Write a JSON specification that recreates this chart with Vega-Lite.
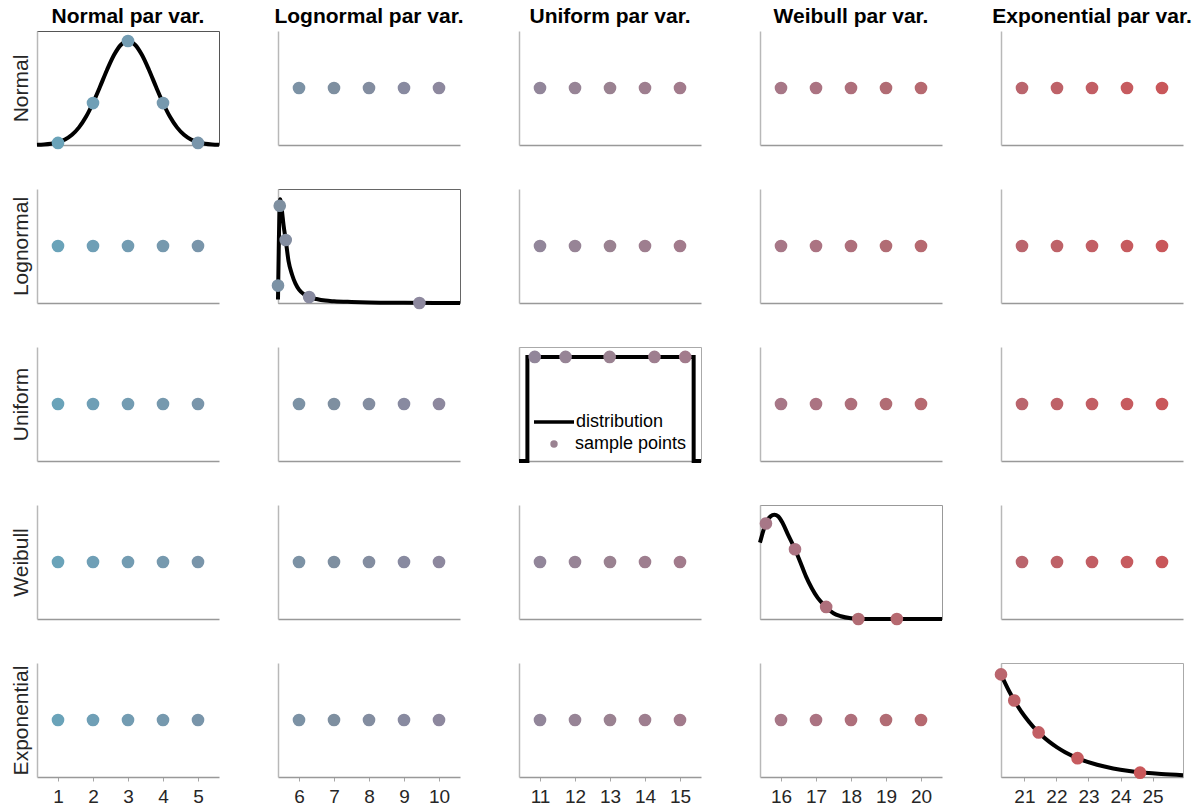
{
"$schema": "https://vega.github.io/schema/vega-lite/v6.json",
"padding": {"left": 9, "top": 5, "right": 0, "bottom": 0},
"background": "white",
"datasets": {
"pts": [
{"c":1,"i":1},{"c":1,"i":2},{"c":1,"i":3},{"c":1,"i":4},{"c":1,"i":5},
{"c":2,"i":6},{"c":2,"i":7},{"c":2,"i":8},{"c":2,"i":9},{"c":2,"i":10},
{"c":3,"i":11},{"c":3,"i":12},{"c":3,"i":13},{"c":3,"i":14},{"c":3,"i":15},
{"c":4,"i":16},{"c":4,"i":17},{"c":4,"i":18},{"c":4,"i":19},{"c":4,"i":20},
{"c":5,"i":21},{"c":5,"i":22},{"c":5,"i":23},{"c":5,"i":24},{"c":5,"i":25}
],
"samples": [
{"d":"Normal","i":1,"x":1,"y":0.018},{"d":"Normal","i":2,"x":2,"y":0.368},{"d":"Normal","i":3,"x":3,"y":0.912},{"d":"Normal","i":4,"x":4,"y":0.368},{"d":"Normal","i":5,"x":5,"y":0.018},
{"d":"Lognormal","i":6,"x":5.4,"y":0.153},{"d":"Lognormal","i":7,"x":5.45,"y":0.853},{"d":"Lognormal","i":8,"x":5.62,"y":0.553},{"d":"Lognormal","i":9,"x":6.29,"y":0.053},{"d":"Lognormal","i":10,"x":9.44,"y":0.0},
{"d":"Uniform","i":11,"x":10.85,"y":0.913},{"d":"Uniform","i":12,"x":11.73,"y":0.913},{"d":"Uniform","i":13,"x":12.99,"y":0.913},{"d":"Uniform","i":14,"x":14.27,"y":0.913},{"d":"Uniform","i":15,"x":15.15,"y":0.913},
{"d":"Weibull","i":16,"x":15.57,"y":0.838},{"d":"Weibull","i":17,"x":16.4,"y":0.612},{"d":"Weibull","i":18,"x":17.29,"y":0.106},{"d":"Weibull","i":19,"x":18.21,"y":0.0},{"d":"Weibull","i":20,"x":19.31,"y":0.0},
{"d":"Exponential","i":21,"x":20.27,"y":0.9},{"d":"Exponential","i":22,"x":20.684,"y":0.671},{"d":"Exponential","i":23,"x":21.444,"y":0.391},{"d":"Exponential","i":24,"x":22.659,"y":0.165},{"d":"Exponential","i":25,"x":24.61,"y":0.038}
],
"curves": [
{"d":"Normal","o":1,"x":0.4,"y":0.002},{"d":"Normal","o":2,"x":0.6,"y":0.0049},{"d":"Normal","o":3,"x":0.8,"y":0.0114},{"d":"Normal","o":4,"x":1.0,"y":0.0243},{"d":"Normal","o":5,"x":1.2,"y":0.0484},{"d":"Normal","o":6,"x":1.4,"y":0.0897},{"d":"Normal","o":7,"x":1.6,"y":0.1545},{"d":"Normal","o":8,"x":1.8,"y":0.2474},{"d":"Normal","o":9,"x":2.0,"y":0.3686},{"d":"Normal","o":10,"x":2.2,"y":0.511},{"d":"Normal","o":11,"x":2.4,"y":0.658},{"d":"Normal","o":12,"x":2.6,"y":0.789},{"d":"Normal","o":13,"x":2.8,"y":0.8795},{"d":"Normal","o":14,"x":3.0,"y":0.912},{"d":"Normal","o":15,"x":3.2,"y":0.8795},{"d":"Normal","o":16,"x":3.4,"y":0.789},{"d":"Normal","o":17,"x":3.6,"y":0.658},{"d":"Normal","o":18,"x":3.8,"y":0.511},{"d":"Normal","o":19,"x":4.0,"y":0.3686},{"d":"Normal","o":20,"x":4.2,"y":0.2474},{"d":"Normal","o":21,"x":4.4,"y":0.1545},{"d":"Normal","o":22,"x":4.6,"y":0.0897},{"d":"Normal","o":23,"x":4.8,"y":0.0484},{"d":"Normal","o":24,"x":5.0,"y":0.0243},{"d":"Normal","o":25,"x":5.2,"y":0.0114},{"d":"Normal","o":26,"x":5.4,"y":0.0049},{"d":"Normal","o":27,"x":5.6,"y":0.002},
{"d":"Lognormal","o":1,"x":5.4,"y":0.03},{"d":"Lognormal","o":2,"x":5.42,"y":0.45},{"d":"Lognormal","o":3,"x":5.44,"y":0.8},{"d":"Lognormal","o":4,"x":5.46,"y":0.91},{"d":"Lognormal","o":5,"x":5.5,"y":0.84},{"d":"Lognormal","o":6,"x":5.56,"y":0.68},{"d":"Lognormal","o":7,"x":5.62,"y":0.553},{"d":"Lognormal","o":8,"x":5.7,"y":0.37},{"d":"Lognormal","o":9,"x":5.8,"y":0.25},{"d":"Lognormal","o":10,"x":5.9,"y":0.17},{"d":"Lognormal","o":11,"x":6.0,"y":0.118},{"d":"Lognormal","o":12,"x":6.15,"y":0.075},{"d":"Lognormal","o":13,"x":6.29,"y":0.053},{"d":"Lognormal","o":14,"x":6.5,"y":0.035},{"d":"Lognormal","o":15,"x":6.75,"y":0.021},{"d":"Lognormal","o":16,"x":7.0,"y":0.015},{"d":"Lognormal","o":17,"x":7.5,"y":0.009},{"d":"Lognormal","o":18,"x":8.0,"y":0.005},{"d":"Lognormal","o":19,"x":9.0,"y":0.002},{"d":"Lognormal","o":20,"x":10.6,"y":0.0},
{"d":"Uniform","o":1,"x":10.4,"y":0},{"d":"Uniform","o":2,"x":10.64,"y":0},{"d":"Uniform","o":3,"x":10.64,"y":0.913},{"d":"Uniform","o":4,"x":15.39,"y":0.913},{"d":"Uniform","o":5,"x":15.39,"y":0},{"d":"Uniform","o":6,"x":15.6,"y":0},
{"d":"Weibull","o":1,"x":15.4,"y":0.67},{"d":"Weibull","o":2,"x":15.5,"y":0.78},{"d":"Weibull","o":3,"x":15.6,"y":0.86},{"d":"Weibull","o":4,"x":15.7,"y":0.9},{"d":"Weibull","o":5,"x":15.81,"y":0.914},{"d":"Weibull","o":6,"x":15.92,"y":0.9},{"d":"Weibull","o":7,"x":16.05,"y":0.84},{"d":"Weibull","o":8,"x":16.2,"y":0.74},{"d":"Weibull","o":9,"x":16.4,"y":0.612},{"d":"Weibull","o":10,"x":16.55,"y":0.5},{"d":"Weibull","o":11,"x":16.71,"y":0.376},{"d":"Weibull","o":12,"x":16.88,"y":0.27},{"d":"Weibull","o":13,"x":17.05,"y":0.185},{"d":"Weibull","o":14,"x":17.29,"y":0.106},{"d":"Weibull","o":15,"x":17.5,"y":0.05},{"d":"Weibull","o":16,"x":17.71,"y":0.024},{"d":"Weibull","o":17,"x":18.0,"y":0.006},{"d":"Weibull","o":18,"x":18.3,"y":0.0},{"d":"Weibull","o":19,"x":20.6,"y":0.0},
{"d":"Exponential","o":1,"x":20.27,"y":0.9},{"d":"Exponential","o":2,"x":20.52,"y":0.754},{"d":"Exponential","o":3,"x":20.77,"y":0.631},{"d":"Exponential","o":4,"x":21.02,"y":0.528},{"d":"Exponential","o":5,"x":21.27,"y":0.442},{"d":"Exponential","o":6,"x":21.52,"y":0.371},{"d":"Exponential","o":7,"x":21.77,"y":0.31},{"d":"Exponential","o":8,"x":22.02,"y":0.26},{"d":"Exponential","o":9,"x":22.27,"y":0.2175},{"d":"Exponential","o":10,"x":22.77,"y":0.1525},{"d":"Exponential","o":11,"x":23.27,"y":0.107},{"d":"Exponential","o":12,"x":23.77,"y":0.075},{"d":"Exponential","o":13,"x":24.27,"y":0.0526},{"d":"Exponential","o":14,"x":24.77,"y":0.0369},{"d":"Exponential","o":15,"x":25.27,"y":0.0259},{"d":"Exponential","o":16,"x":25.95,"y":0.016}
],
"legendkeys": [{"k":"sample points"}]
},
"columns": 5,
"spacing": {"row": 44, "column": 59},
"bounds": "flush",
"resolve": {"scale": {"shape": "independent", "stroke": "independent"}, "legend": {"shape": "independent", "stroke": "independent"}},
"concat": [
{"width":182,"height":114,"title":"Normal par var.","view":{"stroke":"#555"},
 "encoding":{"x":{"field":"x","type":"quantitative","scale":{"domain":[0.4,5.6],"nice":false,"zero":false},"axis":{"labels":false,"ticks":false,"title":null}},
  "y":{"field":"y","type":"quantitative","scale":{"domain":[0,1],"nice":false},"axis":{"labels":false,"ticks":false,"title":"Normal"}}},
 "layer":[
  {"data":{"name":"curves"},"transform":[{"filter":"datum.d=='Normal'"}],"mark":{"type":"line","color":"#000","strokeWidth":4,"interpolate":"monotone"}},
  {"data":{"name":"samples"},"transform":[{"filter":"datum.d=='Normal'"}],"mark":{"type":"circle","size":160,"opacity":1},"encoding":{"color":{"field":"i","type":"quantitative","scale":{"domain":[1,7,13,19,25],"range":["#6aa3b9","#7e8fa0","#9a8291","#b16c74","#c9575a"]},"legend":null}}}
 ]},
{"width":182,"height":114,"title":"Lognormal par var.","data":{"name":"pts"},"transform":[{"filter":"datum.c==2"}],"mark":{"type":"circle","size":160,"opacity":1},
 "encoding":{"x":{"field":"i","type":"quantitative","scale":{"domain":[5.4,10.6],"nice":false,"zero":false},"axis":{"labels":false,"ticks":false,"title":null}},
  "y":{"datum":0.5,"type":"quantitative","scale":{"domain":[0,1]},"axis":{"labels":false,"ticks":false,"title":null}},
  "color":{"field":"i","type":"quantitative","scale":{"domain":[1,7,13,19,25],"range":["#6aa3b9","#7e8fa0","#9a8291","#b16c74","#c9575a"]},"legend":null}}},
{"width":182,"height":114,"title":"Uniform par var.","data":{"name":"pts"},"transform":[{"filter":"datum.c==3"}],"mark":{"type":"circle","size":160,"opacity":1},
 "encoding":{"x":{"field":"i","type":"quantitative","scale":{"domain":[10.4,15.6],"nice":false,"zero":false},"axis":{"labels":false,"ticks":false,"title":null}},
  "y":{"datum":0.5,"type":"quantitative","scale":{"domain":[0,1]},"axis":{"labels":false,"ticks":false,"title":null}},
  "color":{"field":"i","type":"quantitative","scale":{"domain":[1,7,13,19,25],"range":["#6aa3b9","#7e8fa0","#9a8291","#b16c74","#c9575a"]},"legend":null}}},
{"width":182,"height":114,"title":"Weibull par var.","data":{"name":"pts"},"transform":[{"filter":"datum.c==4"}],"mark":{"type":"circle","size":160,"opacity":1},
 "encoding":{"x":{"field":"i","type":"quantitative","scale":{"domain":[15.4,20.6],"nice":false,"zero":false},"axis":{"labels":false,"ticks":false,"title":null}},
  "y":{"datum":0.5,"type":"quantitative","scale":{"domain":[0,1]},"axis":{"labels":false,"ticks":false,"title":null}},
  "color":{"field":"i","type":"quantitative","scale":{"domain":[1,7,13,19,25],"range":["#6aa3b9","#7e8fa0","#9a8291","#b16c74","#c9575a"]},"legend":null}}},
{"width":182,"height":114,"title":"Exponential par var.","data":{"name":"pts"},"transform":[{"filter":"datum.c==5"}],"mark":{"type":"circle","size":160,"opacity":1},
 "encoding":{"x":{"field":"i","type":"quantitative","scale":{"domain":[20.4,25.6],"nice":false,"zero":false},"axis":{"labels":false,"ticks":false,"title":null}},
  "y":{"datum":0.5,"type":"quantitative","scale":{"domain":[0,1]},"axis":{"labels":false,"ticks":false,"title":null}},
  "color":{"field":"i","type":"quantitative","scale":{"domain":[1,7,13,19,25],"range":["#6aa3b9","#7e8fa0","#9a8291","#b16c74","#c9575a"]},"legend":null}}},

{"width":182,"height":114,"data":{"name":"pts"},"transform":[{"filter":"datum.c==1"}],"mark":{"type":"circle","size":160,"opacity":1},
 "encoding":{"x":{"field":"i","type":"quantitative","scale":{"domain":[0.4,5.6],"nice":false,"zero":false},"axis":{"labels":false,"ticks":false,"title":null}},
  "y":{"datum":0.5,"type":"quantitative","scale":{"domain":[0,1]},"axis":{"labels":false,"ticks":false,"title":"Lognormal"}},
  "color":{"field":"i","type":"quantitative","scale":{"domain":[1,7,13,19,25],"range":["#6aa3b9","#7e8fa0","#9a8291","#b16c74","#c9575a"]},"legend":null}}},
{"width":182,"height":114,"view":{"stroke":"#666"},
 "encoding":{"x":{"field":"x","type":"quantitative","scale":{"domain":[5.4,10.6],"nice":false,"zero":false},"axis":{"labels":false,"ticks":false,"title":null}},
  "y":{"field":"y","type":"quantitative","scale":{"domain":[0,1],"nice":false},"axis":{"labels":false,"ticks":false,"title":null}}},
 "layer":[
  {"data":{"name":"curves"},"transform":[{"filter":"datum.d=='Lognormal'"}],"mark":{"type":"line","color":"#000","strokeWidth":4,"interpolate":"monotone"}},
  {"data":{"name":"samples"},"transform":[{"filter":"datum.d=='Lognormal'"}],"mark":{"type":"circle","size":160,"opacity":1},"encoding":{"color":{"field":"i","type":"quantitative","scale":{"domain":[1,7,13,19,25],"range":["#6aa3b9","#7e8fa0","#9a8291","#b16c74","#c9575a"]},"legend":null}}}
 ]},
{"width":182,"height":114,"data":{"name":"pts"},"transform":[{"filter":"datum.c==3"}],"mark":{"type":"circle","size":160,"opacity":1},
 "encoding":{"x":{"field":"i","type":"quantitative","scale":{"domain":[10.4,15.6],"nice":false,"zero":false},"axis":{"labels":false,"ticks":false,"title":null}},
  "y":{"datum":0.5,"type":"quantitative","scale":{"domain":[0,1]},"axis":{"labels":false,"ticks":false,"title":null}},
  "color":{"field":"i","type":"quantitative","scale":{"domain":[1,7,13,19,25],"range":["#6aa3b9","#7e8fa0","#9a8291","#b16c74","#c9575a"]},"legend":null}}},
{"width":182,"height":114,"data":{"name":"pts"},"transform":[{"filter":"datum.c==4"}],"mark":{"type":"circle","size":160,"opacity":1},
 "encoding":{"x":{"field":"i","type":"quantitative","scale":{"domain":[15.4,20.6],"nice":false,"zero":false},"axis":{"labels":false,"ticks":false,"title":null}},
  "y":{"datum":0.5,"type":"quantitative","scale":{"domain":[0,1]},"axis":{"labels":false,"ticks":false,"title":null}},
  "color":{"field":"i","type":"quantitative","scale":{"domain":[1,7,13,19,25],"range":["#6aa3b9","#7e8fa0","#9a8291","#b16c74","#c9575a"]},"legend":null}}},
{"width":182,"height":114,"data":{"name":"pts"},"transform":[{"filter":"datum.c==5"}],"mark":{"type":"circle","size":160,"opacity":1},
 "encoding":{"x":{"field":"i","type":"quantitative","scale":{"domain":[20.4,25.6],"nice":false,"zero":false},"axis":{"labels":false,"ticks":false,"title":null}},
  "y":{"datum":0.5,"type":"quantitative","scale":{"domain":[0,1]},"axis":{"labels":false,"ticks":false,"title":null}},
  "color":{"field":"i","type":"quantitative","scale":{"domain":[1,7,13,19,25],"range":["#6aa3b9","#7e8fa0","#9a8291","#b16c74","#c9575a"]},"legend":null}}},

{"width":182,"height":114,"data":{"name":"pts"},"transform":[{"filter":"datum.c==1"}],"mark":{"type":"circle","size":160,"opacity":1},
 "encoding":{"x":{"field":"i","type":"quantitative","scale":{"domain":[0.4,5.6],"nice":false,"zero":false},"axis":{"labels":false,"ticks":false,"title":null}},
  "y":{"datum":0.5,"type":"quantitative","scale":{"domain":[0,1]},"axis":{"labels":false,"ticks":false,"title":"Uniform"}},
  "color":{"field":"i","type":"quantitative","scale":{"domain":[1,7,13,19,25],"range":["#6aa3b9","#7e8fa0","#9a8291","#b16c74","#c9575a"]},"legend":null}}},
{"width":182,"height":114,"data":{"name":"pts"},"transform":[{"filter":"datum.c==2"}],"mark":{"type":"circle","size":160,"opacity":1},
 "encoding":{"x":{"field":"i","type":"quantitative","scale":{"domain":[5.4,10.6],"nice":false,"zero":false},"axis":{"labels":false,"ticks":false,"title":null}},
  "y":{"datum":0.5,"type":"quantitative","scale":{"domain":[0,1]},"axis":{"labels":false,"ticks":false,"title":null}},
  "color":{"field":"i","type":"quantitative","scale":{"domain":[1,7,13,19,25],"range":["#6aa3b9","#7e8fa0","#9a8291","#b16c74","#c9575a"]},"legend":null}}},
{"width":182,"height":114,"view":{"stroke":"#aaa"},
 "encoding":{"x":{"field":"x","type":"quantitative","scale":{"domain":[10.4,15.6],"nice":false,"zero":false},"axis":{"labels":false,"ticks":false,"title":null}},
  "y":{"field":"y","type":"quantitative","scale":{"domain":[0,1],"nice":false},"axis":{"labels":false,"ticks":false,"title":null}}},
 "layer":[
  {"data":{"name":"curves"},"transform":[{"filter":"datum.d=='Uniform'"}],"mark":{"type":"line","strokeWidth":4,"interpolate":"linear"},
   "encoding":{"order":{"field":"o","type":"quantitative"},
    "stroke":{"datum":"distribution","type":"nominal","scale":{"domain":["distribution"],"range":["#000000"]},
     "legend":{"title":null,"orient":"none","legendX":8,"legendY":65,"padding":0,"symbolType":"stroke","symbolSize":1600,"symbolStrokeWidth":3.5,"symbolOffset":5,"clipHeight":20,"labelFontSize":18,"labelFont":"Liberation Sans","labelColor":"#000","labelOffset":0}}}},
  {"data":{"name":"samples"},"transform":[{"filter":"datum.d=='Uniform'"}],"mark":{"type":"circle","size":160,"opacity":1},"encoding":{"color":{"field":"i","type":"quantitative","scale":{"domain":[1,7,13,19,25],"range":["#6aa3b9","#7e8fa0","#9a8291","#b16c74","#c9575a"]},"legend":null}}},
  {"data":{"name":"legendkeys"},"mark":{"type":"point","filled":true,"color":"#9a8291","opacity":0},
   "encoding":{"shape":{"field":"k","type":"nominal","scale":{"domain":["sample points"],"range":["circle"]},
    "legend":{"title":null,"orient":"none","legendX":8,"legendY":87,"padding":0,"symbolType":"circle","symbolSize":55,"symbolFillColor":"#9a8291","symbolStrokeWidth":0,"symbolOpacity":1,"symbolOffset":18,"clipHeight":20,"labelFontSize":18,"labelFont":"Liberation Sans","labelColor":"#000","labelOffset":12}}}}
 ]},
{"width":182,"height":114,"data":{"name":"pts"},"transform":[{"filter":"datum.c==4"}],"mark":{"type":"circle","size":160,"opacity":1},
 "encoding":{"x":{"field":"i","type":"quantitative","scale":{"domain":[15.4,20.6],"nice":false,"zero":false},"axis":{"labels":false,"ticks":false,"title":null}},
  "y":{"datum":0.5,"type":"quantitative","scale":{"domain":[0,1]},"axis":{"labels":false,"ticks":false,"title":null}},
  "color":{"field":"i","type":"quantitative","scale":{"domain":[1,7,13,19,25],"range":["#6aa3b9","#7e8fa0","#9a8291","#b16c74","#c9575a"]},"legend":null}}},
{"width":182,"height":114,"data":{"name":"pts"},"transform":[{"filter":"datum.c==5"}],"mark":{"type":"circle","size":160,"opacity":1},
 "encoding":{"x":{"field":"i","type":"quantitative","scale":{"domain":[20.4,25.6],"nice":false,"zero":false},"axis":{"labels":false,"ticks":false,"title":null}},
  "y":{"datum":0.5,"type":"quantitative","scale":{"domain":[0,1]},"axis":{"labels":false,"ticks":false,"title":null}},
  "color":{"field":"i","type":"quantitative","scale":{"domain":[1,7,13,19,25],"range":["#6aa3b9","#7e8fa0","#9a8291","#b16c74","#c9575a"]},"legend":null}}},

{"width":182,"height":114,"data":{"name":"pts"},"transform":[{"filter":"datum.c==1"}],"mark":{"type":"circle","size":160,"opacity":1},
 "encoding":{"x":{"field":"i","type":"quantitative","scale":{"domain":[0.4,5.6],"nice":false,"zero":false},"axis":{"labels":false,"ticks":false,"title":null}},
  "y":{"datum":0.5,"type":"quantitative","scale":{"domain":[0,1]},"axis":{"labels":false,"ticks":false,"title":"Weibull"}},
  "color":{"field":"i","type":"quantitative","scale":{"domain":[1,7,13,19,25],"range":["#6aa3b9","#7e8fa0","#9a8291","#b16c74","#c9575a"]},"legend":null}}},
{"width":182,"height":114,"data":{"name":"pts"},"transform":[{"filter":"datum.c==2"}],"mark":{"type":"circle","size":160,"opacity":1},
 "encoding":{"x":{"field":"i","type":"quantitative","scale":{"domain":[5.4,10.6],"nice":false,"zero":false},"axis":{"labels":false,"ticks":false,"title":null}},
  "y":{"datum":0.5,"type":"quantitative","scale":{"domain":[0,1]},"axis":{"labels":false,"ticks":false,"title":null}},
  "color":{"field":"i","type":"quantitative","scale":{"domain":[1,7,13,19,25],"range":["#6aa3b9","#7e8fa0","#9a8291","#b16c74","#c9575a"]},"legend":null}}},
{"width":182,"height":114,"data":{"name":"pts"},"transform":[{"filter":"datum.c==3"}],"mark":{"type":"circle","size":160,"opacity":1},
 "encoding":{"x":{"field":"i","type":"quantitative","scale":{"domain":[10.4,15.6],"nice":false,"zero":false},"axis":{"labels":false,"ticks":false,"title":null}},
  "y":{"datum":0.5,"type":"quantitative","scale":{"domain":[0,1]},"axis":{"labels":false,"ticks":false,"title":null}},
  "color":{"field":"i","type":"quantitative","scale":{"domain":[1,7,13,19,25],"range":["#6aa3b9","#7e8fa0","#9a8291","#b16c74","#c9575a"]},"legend":null}}},
{"width":182,"height":114,"view":{"stroke":"#999"},
 "encoding":{"x":{"field":"x","type":"quantitative","scale":{"domain":[15.4,20.6],"nice":false,"zero":false},"axis":{"labels":false,"ticks":false,"title":null}},
  "y":{"field":"y","type":"quantitative","scale":{"domain":[0,1],"nice":false},"axis":{"labels":false,"ticks":false,"title":null}}},
 "layer":[
  {"data":{"name":"curves"},"transform":[{"filter":"datum.d=='Weibull'"}],"mark":{"type":"line","color":"#000","strokeWidth":4,"interpolate":"monotone"}},
  {"data":{"name":"samples"},"transform":[{"filter":"datum.d=='Weibull'"}],"mark":{"type":"circle","size":160,"opacity":1},"encoding":{"color":{"field":"i","type":"quantitative","scale":{"domain":[1,7,13,19,25],"range":["#6aa3b9","#7e8fa0","#9a8291","#b16c74","#c9575a"]},"legend":null}}}
 ]},
{"width":182,"height":114,"data":{"name":"pts"},"transform":[{"filter":"datum.c==5"}],"mark":{"type":"circle","size":160,"opacity":1},
 "encoding":{"x":{"field":"i","type":"quantitative","scale":{"domain":[20.4,25.6],"nice":false,"zero":false},"axis":{"labels":false,"ticks":false,"title":null}},
  "y":{"datum":0.5,"type":"quantitative","scale":{"domain":[0,1]},"axis":{"labels":false,"ticks":false,"title":null}},
  "color":{"field":"i","type":"quantitative","scale":{"domain":[1,7,13,19,25],"range":["#6aa3b9","#7e8fa0","#9a8291","#b16c74","#c9575a"]},"legend":null}}},

{"width":182,"height":114,"data":{"name":"pts"},"transform":[{"filter":"datum.c==1"}],"mark":{"type":"circle","size":160,"opacity":1},
 "encoding":{"x":{"field":"i","type":"quantitative","scale":{"domain":[0.4,5.6],"nice":false,"zero":false},"axis":{"values":[1,2,3,4,5],"format":"d","title":null}},
  "y":{"datum":0.5,"type":"quantitative","scale":{"domain":[0,1]},"axis":{"labels":false,"ticks":false,"title":"Exponential"}},
  "color":{"field":"i","type":"quantitative","scale":{"domain":[1,7,13,19,25],"range":["#6aa3b9","#7e8fa0","#9a8291","#b16c74","#c9575a"]},"legend":null}}},
{"width":182,"height":114,"data":{"name":"pts"},"transform":[{"filter":"datum.c==2"}],"mark":{"type":"circle","size":160,"opacity":1},
 "encoding":{"x":{"field":"i","type":"quantitative","scale":{"domain":[5.4,10.6],"nice":false,"zero":false},"axis":{"values":[6,7,8,9,10],"format":"d","title":null}},
  "y":{"datum":0.5,"type":"quantitative","scale":{"domain":[0,1]},"axis":{"labels":false,"ticks":false,"title":null}},
  "color":{"field":"i","type":"quantitative","scale":{"domain":[1,7,13,19,25],"range":["#6aa3b9","#7e8fa0","#9a8291","#b16c74","#c9575a"]},"legend":null}}},
{"width":182,"height":114,"data":{"name":"pts"},"transform":[{"filter":"datum.c==3"}],"mark":{"type":"circle","size":160,"opacity":1},
 "encoding":{"x":{"field":"i","type":"quantitative","scale":{"domain":[10.4,15.6],"nice":false,"zero":false},"axis":{"values":[11,12,13,14,15],"format":"d","title":null}},
  "y":{"datum":0.5,"type":"quantitative","scale":{"domain":[0,1]},"axis":{"labels":false,"ticks":false,"title":null}},
  "color":{"field":"i","type":"quantitative","scale":{"domain":[1,7,13,19,25],"range":["#6aa3b9","#7e8fa0","#9a8291","#b16c74","#c9575a"]},"legend":null}}},
{"width":182,"height":114,"data":{"name":"pts"},"transform":[{"filter":"datum.c==4"}],"mark":{"type":"circle","size":160,"opacity":1},
 "encoding":{"x":{"field":"i","type":"quantitative","scale":{"domain":[15.4,20.6],"nice":false,"zero":false},"axis":{"values":[16,17,18,19,20],"format":"d","title":null}},
  "y":{"datum":0.5,"type":"quantitative","scale":{"domain":[0,1]},"axis":{"labels":false,"ticks":false,"title":null}},
  "color":{"field":"i","type":"quantitative","scale":{"domain":[1,7,13,19,25],"range":["#6aa3b9","#7e8fa0","#9a8291","#b16c74","#c9575a"]},"legend":null}}},
{"width":182,"height":114,"view":{"stroke":"#aaa"},
 "encoding":{"x":{"field":"x","type":"quantitative","scale":{"domain":[20.27,25.95],"nice":false,"zero":false},"axis":{"values":[21,22,23,24,25],"format":"d","title":null}},
  "y":{"field":"y","type":"quantitative","scale":{"domain":[0,1],"nice":false},"axis":{"labels":false,"ticks":false,"title":null}}},
 "layer":[
  {"data":{"name":"curves"},"transform":[{"filter":"datum.d=='Exponential'"}],"mark":{"type":"line","color":"#000","strokeWidth":4,"interpolate":"monotone"}},
  {"data":{"name":"samples"},"transform":[{"filter":"datum.d=='Exponential'"}],"mark":{"type":"circle","size":160,"opacity":1},"encoding":{"color":{"field":"i","type":"quantitative","scale":{"domain":[1,7,13,19,25],"range":["#6aa3b9","#7e8fa0","#9a8291","#b16c74","#c9575a"]},"legend":null}}}
 ]}
],
"config": {
 "font": "Liberation Sans",
 "view": {"stroke": null},
 "axis": {"grid": false, "domainWidth": 1.5, "labelFont": "Liberation Sans", "labelFontSize": 19, "labelColor": "#262626", "tickColor": "#a6a6a6", "tickSize": 4, "labelPadding": 6, "titleFont": "Liberation Sans", "titleFontSize": 21, "titleFontWeight": "normal", "titleColor": "#262626", "titlePadding": 6},
 "axisX": {"domainColor": "#999999"},
 "axisY": {"domainColor": "#b8b8b8"},
 "title": {"font": "Liberation Sans", "fontSize": 21, "fontWeight": "bold", "color": "#000", "baseline": "alphabetic", "offset": 4}
}
}
